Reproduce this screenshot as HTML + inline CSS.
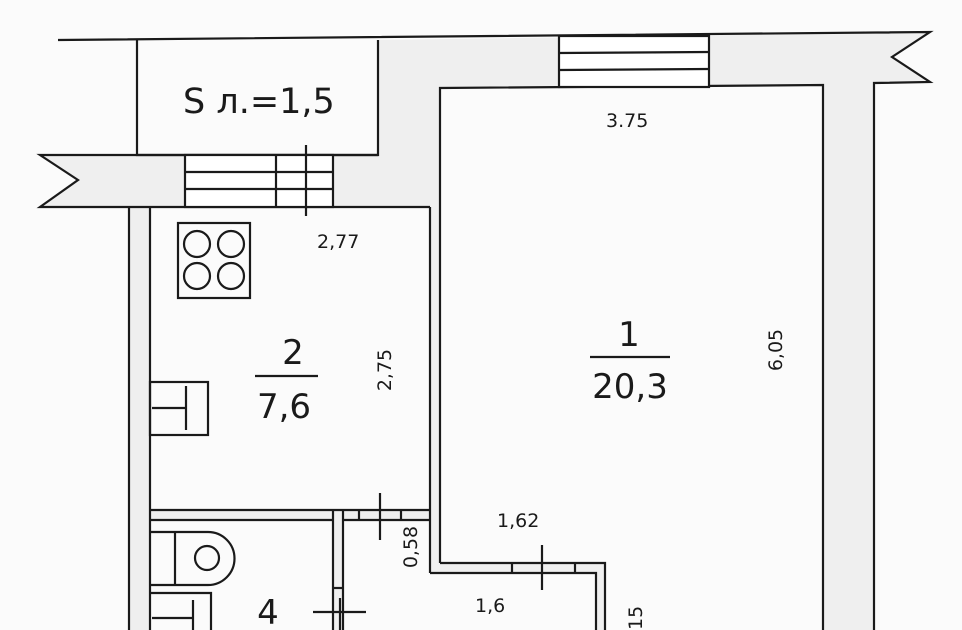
<!DOCTYPE html>
<html><head><meta charset="utf-8"><style>
html,body{margin:0;padding:0;background:#fff;}
svg{display:block;}
text{font-family:"DejaVu Sans","Liberation Sans",sans-serif;fill:#1a1a1a;}
</style></head><body>
<svg width="962" height="630" viewBox="0 0 962 630" xmlns="http://www.w3.org/2000/svg">
<rect width="962" height="630" fill="#fbfbfb"/>
<g fill="#efefef" stroke="none">
<polygon points="378,40 930,32 892,57 930,82 874,83 874,630 823,630 823,85 440,88 440,207 437,207 437,155 378,155"/>
<polygon points="40,155 437,155 437,207 40,207 78,180"/>
<rect x="129" y="207" width="21" height="423"/>
<rect x="150" y="510" width="280" height="10"/>
<rect x="333" y="520" width="10" height="110"/>
<rect x="430" y="200" width="10" height="373"/>
<polygon points="430,510 440,510 440,563 605,563 605,630 596,630 596,573 430,573"/>
</g>
<g stroke="#1a1a1a" stroke-width="2.2" fill="none">
<polyline points="58,40 930,32 892,57 930,82 874,83 874,630"/>
<polyline points="137,40 137,155 378,155 378,40"/>
<polyline points="378,155 40,155 78,180 40,207 430,207"/>
<polyline points="440,563 440,88 823,85 823,630"/>
<rect x="185" y="155" width="148" height="52" fill="#fff"/>
<line x1="185" y1="172" x2="333" y2="172"/>
<line x1="185" y1="189" x2="333" y2="189"/>
<line x1="276" y1="155" x2="276" y2="207"/>
<line x1="306" y1="145" x2="306" y2="216"/>
<rect x="559" y="36" width="150" height="51" fill="#fff"/>
<line x1="559" y1="53" x2="709" y2="52"/>
<line x1="559" y1="70" x2="709" y2="69"/>
<line x1="129" y1="207" x2="129" y2="630"/>
<line x1="150" y1="207" x2="150" y2="630"/>
<line x1="430" y1="207" x2="430" y2="573"/>
<line x1="150" y1="510" x2="430" y2="510"/>
<line x1="150" y1="520" x2="333" y2="520"/>
<line x1="343" y1="520" x2="430" y2="520"/>
<line x1="343" y1="510" x2="343" y2="520"/>
<line x1="359" y1="510" x2="359" y2="520"/>
<line x1="401" y1="510" x2="401" y2="520"/>
<line x1="380" y1="493" x2="380" y2="540"/>
<line x1="333" y1="510" x2="333" y2="630"/>
<line x1="343" y1="520" x2="343" y2="630"/>
<line x1="333" y1="588" x2="343" y2="588"/>
<line x1="313" y1="612" x2="366" y2="612"/>
<line x1="340" y1="598" x2="340" y2="630"/>
<polyline points="440,563 605,563 605,630"/>
<polyline points="430,573 596,573 596,630"/>
<line x1="512" y1="563" x2="512" y2="573"/>
<line x1="575" y1="563" x2="575" y2="573"/>
<line x1="542" y1="545" x2="542" y2="590"/>
<rect x="178" y="223" width="72" height="75"/>
<circle cx="197" cy="244" r="13"/><circle cx="231" cy="244" r="13"/>
<circle cx="197" cy="276" r="13"/><circle cx="231" cy="276" r="13"/>
<rect x="150" y="382" width="58" height="53"/>
<line x1="152" y1="408" x2="186" y2="408"/>
<line x1="186" y1="386" x2="186" y2="430"/>
<path d="M150,532 H208 A26,26 0 0 1 208,585 H150"/>
<line x1="175" y1="532" x2="175" y2="585"/>
<circle cx="207" cy="558" r="12"/>
<polyline points="150,593 211,593 211,630"/>
<line x1="193" y1="600" x2="193" y2="630"/>
<line x1="152" y1="618" x2="193" y2="618"/>
<line x1="255" y1="376" x2="318" y2="376"/>
<line x1="590" y1="357" x2="670" y2="357"/>
</g>
<text x="183" y="113" font-size="35">S л.=1,5</text>
<text x="317" y="248" font-size="19">2,77</text>
<text x="606" y="127" font-size="19">3.75</text>
<text x="629" y="346" font-size="34" text-anchor="middle">1</text>
<text x="630" y="398" font-size="34" text-anchor="middle">20,3</text>
<text x="293" y="364" font-size="34" text-anchor="middle">2</text>
<text x="284" y="418" font-size="34" text-anchor="middle">7,6</text>
<text transform="translate(391,370) rotate(-90)" font-size="19" text-anchor="middle">2,75</text>
<text transform="translate(782,350) rotate(-90)" font-size="19" text-anchor="middle">6,05</text>
<text transform="translate(417,547) rotate(-90)" font-size="19" text-anchor="middle">0,58</text>
<text x="497" y="527" font-size="19">1,62</text>
<text x="475" y="612" font-size="19">1,6</text>
<text x="268" y="624" font-size="34" text-anchor="middle">4</text>
<text transform="translate(642,630) rotate(-90)" font-size="19">15</text>
</svg>
</body></html>
